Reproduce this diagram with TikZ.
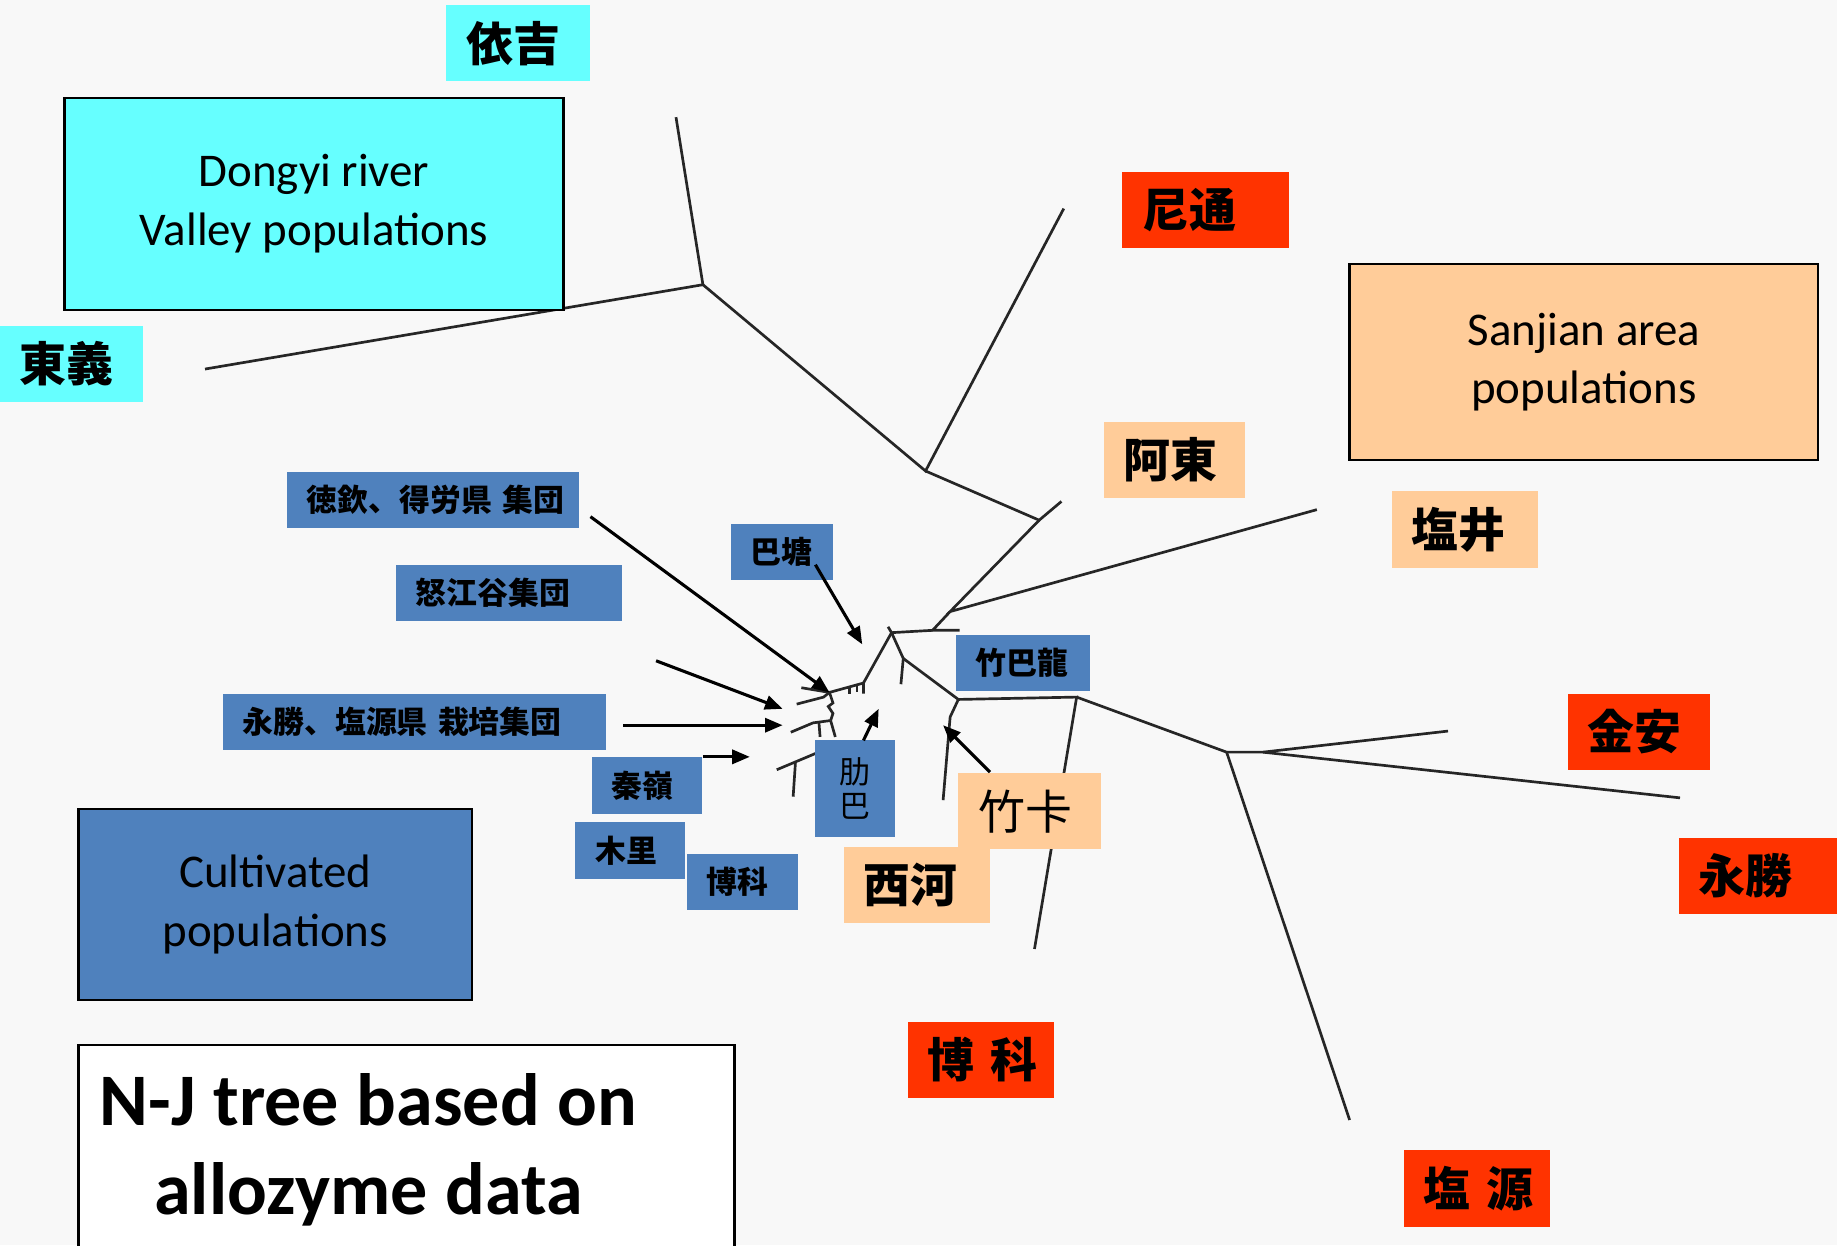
\documentclass[tikz,border=0pt]{standalone}
\usepackage{fontspec}
\setmainfont{Carlito}
\newfontfamily\cjk{Noto Sans CJK JP}
\usetikzlibrary{arrows.meta}

\definecolor{dongyi}{HTML}{66FFFF}
\definecolor{wild}{HTML}{FF3300}
\definecolor{sanjian}{HTML}{FFCC99}
\definecolor{cultivated}{HTML}{4F81BD}
\definecolor{paper}{HTML}{F8F8F8}

\begin{document}
\begin{tikzpicture}[x=0.1mm,y=-0.1mm,
		branch/.style={line width=0.65pt,black!85},
		pointer/.style={line width=0.75pt,-{Triangle[length=1.5mm,width=1.2mm]}},
		bigtag/.style={inner xsep=1.7mm,inner ysep=0pt,minimum height=6.5mm,align=left,
			font=\cjk\bfseries\fontsize{11.4}{13}\selectfont},
		smalltag/.style={fill=cultivated,inner xsep=1.7mm,inner ysep=0pt,minimum height=4.8mm,align=left,
			font=\cjk\bfseries\fontsize{7.5}{9}\selectfont},
		groupbox/.style={draw,line width=0.6pt,inner sep=0pt,align=center,
			font=\fontsize{11.4}{14.2}\selectfont}]
		% page
		\useasboundingbox (0,0) rectangle (1568,1063);
		\fill[paper] (0,0) rectangle (1568,1063);
		
		% tree
		\coordinate (A) at (600,243);
		\coordinate (B) at (790,402);
		\coordinate (C) at (887,444);
		\coordinate (D) at (811,522);
		\coordinate (E) at (796,538);
		\coordinate (F) at (761,540);
		\coordinate (G) at (771,562);
		\coordinate (H) at (818,597);
		\coordinate (H2) at (811,612);
		\coordinate (I) at (919,595);
		\coordinate (L) at (1047,642);
		\coordinate (M) at (1078,642);
		\coordinate (J) at (737,583);
		\coordinate (N) at (708,591);
		\coordinate (P) at (703,595);
		\coordinate (Q) at (709,615);
		\coordinate (R) at (694,617);
		\coordinate (R2) at (699,616.5);
		\coordinate (T) at (712,636);
		\coordinate (U) at (694,644);
		\coordinate (V) at (679,650.3);
		
		\draw[branch] (577,100) coordinate (yjleaf) -- (A) -- (175,315) coordinate (dyleaf);
		\draw[branch] (A) -- (B) -- (908,178) coordinate (ntleaf);
		\draw[branch] (B) -- (C) -- (906,428) coordinate (adleaf);
		\draw[branch] (C) -- (D) -- (1124,435) coordinate (yjingleaf);
		\draw[branch] (D) -- (E) -- (819,538);
		\draw[branch] (E) -- (F) -- (758,535);
		\draw[branch] (F) -- (J) -- (737,592);
		\draw[branch] (F) -- (G) -- (769,584);
		\draw[branch] (G) -- (H) -- (I) -- (883,810) coordinate (bkleaf);
		\draw[branch] (I) -- (L) -- (1152,956) coordinate (yyleaf);
		\draw[branch] (L) -- (M) -- (1236,624) coordinate (jaleaf);
		\draw[branch] (M) -- (1434,681) coordinate (ysleaf);
		\draw[branch] (H) -- (H2) -- (805,683) coordinate (zkleaf);
		
		% small cultivated clades
		\draw[branch] (J) -- (N) -- (684,587);
		\draw[branch] (725,586.3) -- (725,592);
		\draw[branch] (731.5,584.6) -- (731.5,590.5);
		\draw[branch] (N) -- (P) -- (680,601);
		\draw[branch] (N) -- (711,600) -- (707,603) -- (711,609) -- (Q);
		\draw[branch] (Q) -- (R) -- (675,625);
		\draw[branch] (R2) -- (700,629);
		\draw[branch] (Q) -- (713,629);
		\draw[branch] (T) -- (U) -- (V) -- (663,657);
		\draw[branch] (V) -- (677,680);
		
		% group boxes
		\node[groupbox,fill=dongyi,minimum width=42.6mm,minimum height=18.1mm] (dongyibox) at (268,174)
		{Dongyi river\\Valley populations};
		\node[groupbox,fill=sanjian,minimum width=40mm,minimum height=16.7mm] (sanjianbox) at (1352,309)
		{Sanjian area\\populations};
		\node[groupbox,fill=cultivated,minimum width=33.6mm,minimum height=16.3mm] (cultbox) at (235,772)
		{Cultivated\\populations};
		\node[groupbox,fill=white,minimum width=56mm,minimum height=18.3mm,text width=52.4mm,inner xsep=1.8mm,
			align=left,font=\bfseries\fontsize{18}{21.6}\selectfont] (njbox) at (347,983.5)
		{\spaceskip=0.24em\relax
			\begin{tabular}{@{}c@{}}N-J tree based on\\allozyme data\end{tabular}};
		
		% wild populations
		\node[bigtag,fill=dongyi,text width=8.9mm] (yiji) at (442.5,37) {依吉};
		\node[bigtag,fill=dongyi,text width=8.8mm] (dongyi) at (61,310.5) {東義};
		\node[bigtag,fill=wild,text width=10.8mm] (nitong) at (1029,179.5) {尼通};
		\node[bigtag,fill=sanjian,text width=8.7mm] (adong) at (1002.5,392.5) {阿東};
		\node[bigtag,fill=sanjian,text width=9.1mm] (yanjing) at (1250.5,452) {塩井};
		\node[bigtag,fill=wild,text width=8.8mm] (jinan) at (1399,624.5) {金安};
		\node[bigtag,fill=wild,text width=10.6mm] (yongsheng) at (1503,747.5) {永勝};
		\node[bigtag,fill=wild,text width=9.1mm] (boke) at (837.5,904.5) {博~科};
		\node[bigtag,fill=wild,text width=9.1mm] (yanyuan) at (1260.5,1014.5) {塩~源};
		\node[bigtag,fill=sanjian,text width=9.1mm] (xihe) at (782.5,755.5) {西河};
		\node[bigtag,fill=sanjian,text width=8.8mm,font=\cjk\fontsize{11.4}{13}\selectfont] (zhuka) at (879,692.5) {竹卡};
		
		% cultivated populations
		\node[smalltag,text width=21.5mm] (deqin) at (369.5,426.5) {徳欽、得労県~集団};
		\node[smalltag,text width=15.9mm] (nujiang) at (434.5,506) {怒江谷集団};
		\node[smalltag,text width=29.3mm] (yycult) at (353.5,616) {永勝、塩源県~栽培集団};
		\node[smalltag,text width=5.3mm] (batang) at (667.5,471) {巴塘};
		\node[smalltag,text width=8.0mm] (zhubalong) at (873,566) {竹巴龍};
		\node[smalltag,text width=6.0mm] (qinling) at (552,670.5) {秦嶺};
		\node[smalltag,text width=6.0mm] (muli) at (538,726) {木里};
		\node[smalltag,text width=6.1mm] (bkcult) at (633.5,752.5) {博科};
		\node[smalltag,font=\cjk\fontsize{7.5}{8.3}\selectfont,align=center,inner xsep=0pt,
			minimum width=6.8mm,minimum height=8.2mm] (leiba) at (730,673) {肋\\巴};
		
		% pointers
		\coordinate (t1) at (504,441);
		\coordinate (t2) at (560,564);
		\coordinate (h2) at (668,605);
		\coordinate (t3) at (532,619);
		\coordinate (h3) at (668,619);
		\coordinate (t4) at (600,646);
		\coordinate (h4) at (640,646);
		\coordinate (t5) at (696,482);
		\coordinate (h5) at (736,550);
		\coordinate (t6) at (737,632);
		\coordinate (h6) at (750,605);
		\coordinate (t7) at (845,659);
		\coordinate (h7) at (805,619);
		\draw[pointer] (t1) -- (N);
		\draw[pointer] (t2) -- (h2);
		\draw[pointer] (t3) -- (h3);
		\draw[pointer] (t4) -- (h4);
		\draw[pointer] (t5) -- (h5);
		\draw[pointer] (t6) -- (h6);
		\draw[pointer] (t7) -- (h7);
	\end{tikzpicture}
\end{document}
